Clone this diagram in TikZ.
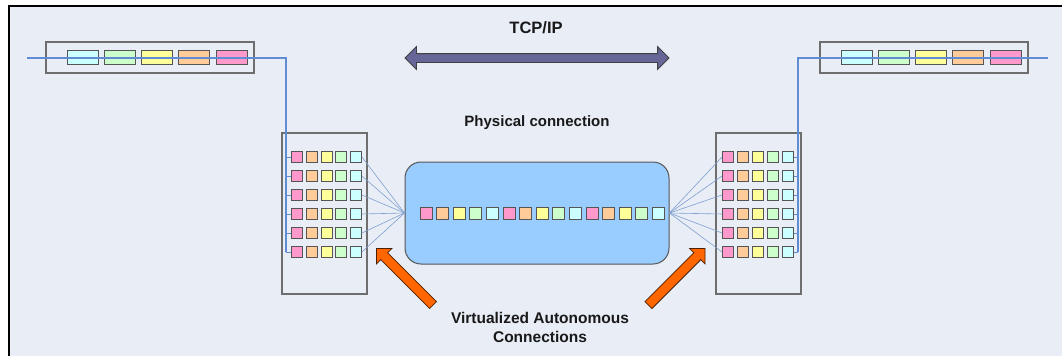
\documentclass[tikz,border=0pt]{standalone}
\usepackage{fontspec}
\setmainfont{Liberation Sans}
\usetikzlibrary{shapes.arrows}

\definecolor{bg}{HTML}{E9EDF6}
\definecolor{cCyan}{HTML}{CCFFFF}
\definecolor{cGreen}{HTML}{CCFFCC}
\definecolor{cYellow}{HTML}{FFFF99}
\definecolor{cOrange}{HTML}{FFCC99}
\definecolor{cPink}{HTML}{FF99CC}
\definecolor{linkfill}{HTML}{99CCFF}
\definecolor{wireblue}{HTML}{5F8CD2}
\definecolor{fanblue}{HTML}{7F9FD0}
\definecolor{tcpfill}{HTML}{666699}
\definecolor{orangefill}{HTML}{FF6600}
\definecolor{edgegray}{HTML}{555555}

\tikzset{
  frame/.style={draw=edgegray!85, line width=1.1pt, fill=none, inner sep=0pt},
  cell/.style={draw=edgegray, line width=0.9pt, inner sep=0pt, minimum width=31pt, minimum height=14pt},
  sq/.style={draw=edgegray, line width=0.9pt, inner sep=0pt, minimum size=11pt},
  lsq/.style={draw=edgegray, line width=0.9pt, inner sep=0pt, minimum size=12pt},
  wire/.style={draw=wireblue, line width=1.4pt},
  fan/.style={draw=fanblue, line width=0.6pt},
  label/.style={font=\bfseries, text=black!90, inner sep=0pt, align=center},
  bigarrow/.style={single arrow, draw=black!70!orangefill, fill=orangefill, line width=0.8pt,
    minimum height=80pt, minimum width=21pt, single arrow head extend=6pt, inner sep=4.5pt},
}

\begin{document}
\begin{tikzpicture}[x=1pt,y=-1pt]
  \useasboundingbox (0,0) rectangle (1062,356);
  \fill[white] (0,0) rectangle (1062,356);
  \fill[bg] (9,6) rectangle (1062,356);
  \draw[black, line width=1.6pt] (9,356) -- (9,6) -- (1062,6);

  % top labels and the TCP/IP double arrow
  \node[label, font=\bfseries\fontsize{16.5}{19}\selectfont] (tcp) at (536,28) {TCP/IP};
  \node[double arrow, draw=black!75, fill=tcpfill, line width=0.8pt,
        minimum height=264pt, minimum width=22pt, double arrow head extend=7pt,
        inner sep=4pt] (tcparrow) at (537,58) {};
  \node[label, font=\bfseries\fontsize{15}{18}\selectfont] (phys) at (537,123) {Physical connection};

  % central physical link
  \node[draw=edgegray, line width=1pt, fill=linkfill, rounded corners=16pt,
        minimum width=264pt, minimum height=102pt, inner sep=0pt] (link) at (537,213) {};
  \foreach \i [count=\k from 0] in {cPink,cOrange,cYellow,cGreen,cCyan,
                                     cPink,cOrange,cYellow,cGreen,cCyan,
                                     cPink,cOrange,cYellow,cGreen,cCyan} {
    \node[lsq, fill=\i] (m\k) at ({426+16.6*\k},213) {};
  }

  % left end bar
  \node[frame, minimum width=208pt, minimum height=31pt] (lbar) at (150,57.5) {};
  \foreach \c [count=\k from 0] in {cCyan,cGreen,cYellow,cOrange,cPink} {
    \node[cell, fill=\c] (lb\k) at ({82.5+37.3*\k},57) {};
  }
  % right end bar
  \node[frame, minimum width=208pt, minimum height=31pt] (rbar) at (924,57.5) {};
  \foreach \c [count=\k from 0] in {cCyan,cGreen,cYellow,cOrange,cPink} {
    \node[cell, fill=\c] (rb\k) at ({856.5+37.3*\k},57) {};
  }

  % racks
  \node[frame, minimum width=85pt, minimum height=161pt] (lrack) at (324.5,213.5) {};
  \node[frame, minimum width=85pt, minimum height=161pt] (rrack) at (758.5,213.5) {};
  \foreach \j in {1,...,6} {
    \foreach \c [count=\k from 0] in {cPink,cOrange,cYellow,cGreen,cCyan} {
      \node[sq, fill=\c] (l\k-\j) at ({297+14.75*\k},{138+19*\j}) {};
      \node[sq, fill=\c] (r\k-\j) at ({728+15*\k},{138+19*\j}) {};
    }
  }

  % fan-out lines between racks and the link
  \foreach \j in {1,...,6} {
    \draw[fan] (l4-\j.east) -- (link.west);
    \draw[fan] (link.east) -- (r0-\j.west);
  }

  % left trunk
  \coordinate (lin) at (27,58);
  \coordinate (ltrunk) at (286,58);
  \draw[wire] (lin) -- (ltrunk) -- (ltrunk |- l0-6.west);
  \foreach \j in {1,...,6} \draw[wire, line width=1pt] (ltrunk |- l0-\j.west) -- (l0-\j.west);

  % right trunk
  \coordinate (rin) at (1048,58);
  \coordinate (rtrunk) at (798,58);
  \draw[wire] (rin) -- (rtrunk) -- (rtrunk |- r4-6.east);
  \foreach \j in {1,...,6} \draw[wire, line width=1pt] (rtrunk |- r4-\j.east) -- (r4-\j.east);

  % virtualized connection callouts
  \node[bigarrow, rotate=135] (varrowl) at (406.5,278.5) {};
  \node[bigarrow, rotate=45] (varrowr) at (675,278.5) {};
  \node[label, font=\bfseries\fontsize{15.5}{19}\selectfont] (virt) at (540,327.5)
    {Virtualized Autonomous\\Connections};
\end{tikzpicture}
\end{document}
